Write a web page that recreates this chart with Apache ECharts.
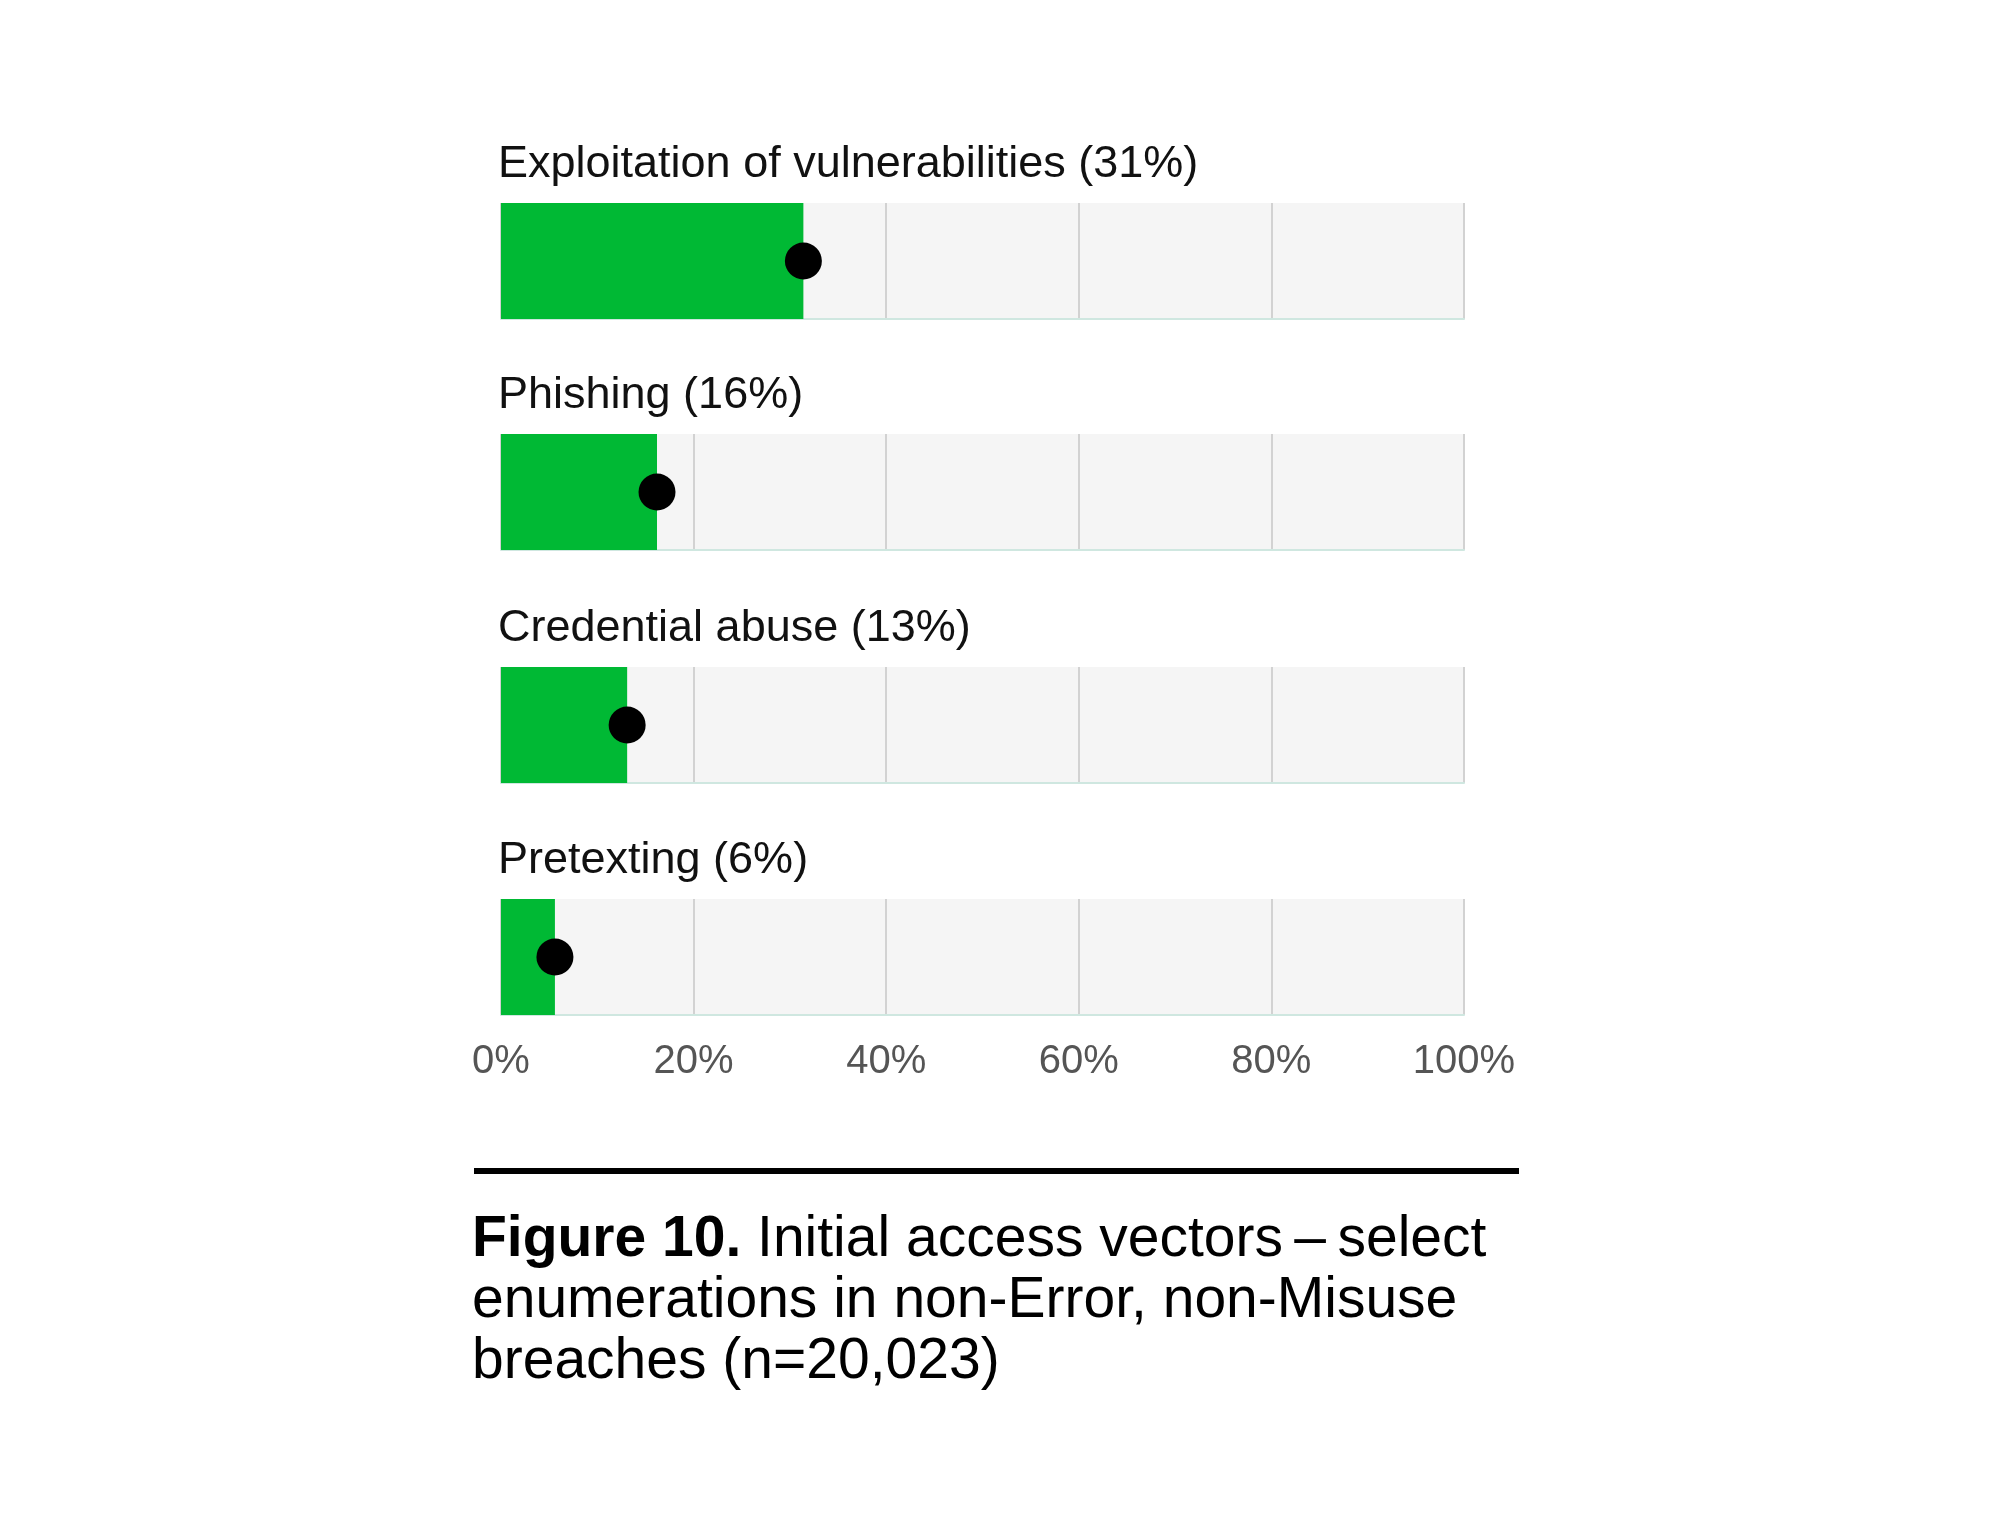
<!DOCTYPE html>
<html>
<head>
<meta charset="utf-8">
<script src="https://cdn.jsdelivr.net/npm/echarts@6/dist/echarts.min.js"></script>
<style>
html,body{margin:0;padding:0;background:#fff;}
#c{width:1999px;height:1521px;}
</style>
</head>
<body>
<div id="c"></div>
<script>
const categories = ['Exploitation of vulnerabilities', 'Phishing', 'Credential abuse', 'Pretexting'];
const labelValues = [31, 16, 13, 6];
const estimates = [31.4, 16.2, 13.1, 5.6];
const tickValues = [0, 20, 40, 60, 80, 100];
const captionBold = 'Figure 10.';
const captionLines = ['Initial access vectors\u2009\u2013\u2009select', 'enumerations in non-Error, non-Misuse', 'breaches (n=20,023)'];

const FONT = 'Liberation Sans, Arial, Helvetica, sans-serif';
const gridLeft = 501, gridWidth = 963, barH = 116;
const gridTops = [203, 434, 667, 899];

const chart = echarts.init(document.getElementById('c'));
const grids = [], xAxes = [], yAxes = [], series = [], titles = [];
categories.forEach((name, i) => {
  const last = i === categories.length - 1;
  grids.push({left: gridLeft, top: gridTops[i], width: gridWidth, height: barH,
    show: true, backgroundColor: '#f5f5f5', borderWidth: 0});
  xAxes.push({gridIndex: i, type: 'value', min: tickValues[0], max: tickValues[tickValues.length-1], interval: 20,
    axisLine: {show: true, lineStyle: {color: '#cfe7e0', width: 2}},
    axisTick: {show: false},
    splitLine: {show: true, lineStyle: {color: '#d2d2d2', width: 2}},
    axisLabel: {show: last, formatter: '{value}%', fontSize: 40, color: '#555', fontFamily: FONT, margin: 27}
  });
  yAxes.push({gridIndex: i, type: 'category', data: [name], show: false});
  series.push({type: 'bar', xAxisIndex: i, yAxisIndex: i, data: [estimates[i]], barWidth: '100%',
    itemStyle: {color: '#00b934'}, silent: true, z: 2});
  series.push({type: 'scatter', xAxisIndex: i, yAxisIndex: i, data: [[estimates[i], name]],
    symbol: 'circle', symbolSize: 37, itemStyle: {color: '#000', opacity: 1}, silent: true, z: 3});
  titles.push({text: name + ' (' + labelValues[i] + '%)', left: gridLeft - 3, top: gridTops[i] - 61, padding: 0,
    textStyle: {fontSize: 45, fontWeight: 'normal', color: '#111', fontFamily: FONT}});
});
titles.push({
  text: '{b|' + captionBold + '} ' + captionLines.join('\n'),
  left: 472, top: 1210, padding: 0,
  textStyle: {fontSize: 57, lineHeight: 61, fontWeight: 'normal', color: '#000', fontFamily: FONT,
    rich: {b: {fontSize: 57, lineHeight: 61, fontWeight: 'bold', color: '#000', fontFamily: FONT}}}
});

chart.setOption({
  backgroundColor: '#fff',
  animation: false,
  title: titles,
  grid: grids,
  xAxis: xAxes,
  yAxis: yAxes,
  series: series,
  graphic: [{type: 'rect', left: 474, top: 1168, shape: {width: 1045, height: 6}, style: {fill: '#000'}}]
});
</script>
</body>
</html>
